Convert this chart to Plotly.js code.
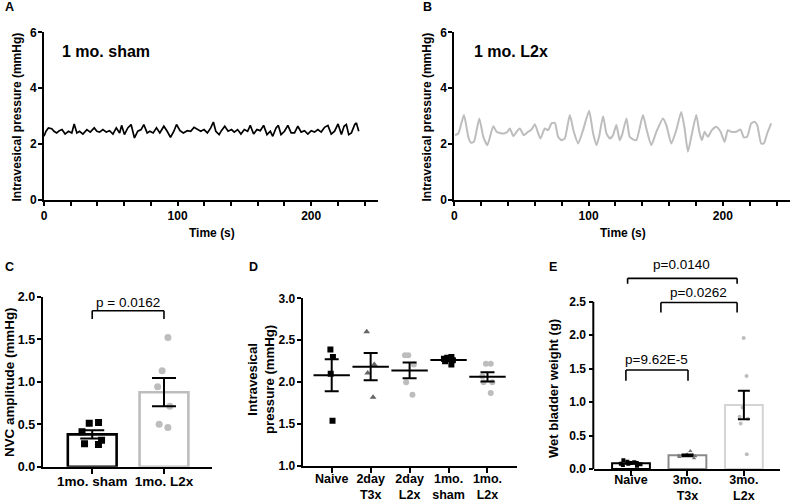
<!DOCTYPE html>
<html><head><meta charset="utf-8">
<script src="https://cdn.plot.ly/plotly-3.0.1.min.js"></script>
<style>html,body{margin:0;padding:0;background:#fff;}#chart{width:792px;height:504px;}</style>
</head><body><div id="chart"></div>
<script>
// ---------- DATA ----------
// Panel A: 1 mo. sham trace (time s, pressure mmHg)
const timeA = [0,1.5,3.3,5.8,7.5,9.5,11.5,13.5,15.8,18.3,20.8,22.6,24.6,26.6,29.1,32.1,34.6,37.6,39.6,41.6,44.1,46.6,49.1,51.6,54.1,56.6,58.1,60.2,62.7,65.2,67.7,70.2,72.7,74.7,77.2,79.2,81.7,84.2,86.7,89.7,92.2,94.7,97.2,99.2,101.8,104.3,107.3,109.8,112.3,114.8,117.3,119.8,122.3,124.8,126.8,128.6,131.1,132.8,135.3,137.8,140.4,142.4,144.9,147.4,149.9,152.4,154.4,156.9,159.4,161.9,164.4,166.9,169.4,171.2,173.7,175.4,177.4,180.0,182.5,185.0,187.5,190.0,192.5,195.0,197.5,200.0,202.5,205.0,207.5,210.0,212.5,215.0,217.5,220.1,222.6,224.6,226.3,228.1,230.1,232.6,233.8,235.6];
const pressureA = [2.28,2.46,2.58,2.55,2.46,2.40,2.48,2.52,2.36,2.46,2.40,2.72,2.40,2.46,2.36,2.52,2.43,2.58,2.46,2.43,2.52,2.43,2.48,2.36,2.58,2.40,2.67,2.34,2.58,2.70,2.22,2.46,2.52,2.70,2.40,2.46,2.40,2.58,2.40,2.64,2.46,2.24,2.46,2.70,2.48,2.40,2.48,2.46,2.60,2.52,2.46,2.52,2.40,2.58,2.79,2.46,2.34,2.48,2.64,2.46,2.52,2.43,2.52,2.36,2.52,2.46,2.67,2.36,2.52,2.48,2.67,2.34,2.46,2.28,2.58,2.67,2.34,2.46,2.67,2.40,2.40,2.64,2.43,2.48,2.36,2.48,2.43,2.52,2.43,2.60,2.67,2.36,2.46,2.72,2.34,2.64,2.70,2.34,2.40,2.70,2.76,2.46];
// Panel B: 1 mo. L2x trace
const timeB = [0.5,3.0,7.2,10.4,12.2,14.6,18.6,21.6,24.6,29.0,31.5,34.0,37.0,39.4,41.4,43.9,46.4,48.8,51.8,55.0,57.5,60.0,62.5,64.2,67.4,69.9,72.4,74.9,77.3,79.8,82.3,86.0,89.0,92.2,95.9,100.4,103.4,105.9,107.8,110.8,113.3,115.8,118.2,120.7,123.2,124.9,128.2,130.6,133.1,135.6,140.5,143.0,146.7,150.5,155.4,157.9,161.6,165.3,169.0,171.5,174.0,176.5,180.2,182.7,184.4,186.4,188.9,191.8,195.1,198.3,201.3,203.7,206.2,209.9,213.2,215.6,218.1,221.1,223.6,225.6,228.5,230.5,233.0,236.0];
const pressureB = [2.32,2.38,3.04,2.26,2.05,2.08,2.92,2.26,1.96,2.64,2.44,2.40,2.38,2.43,2.56,2.29,2.44,2.56,2.32,2.44,2.52,2.71,2.38,2.20,2.56,2.50,2.74,2.76,2.26,2.14,2.20,3.04,2.44,2.02,2.50,3.19,2.38,1.96,2.26,3.00,2.38,2.20,2.32,2.68,2.14,2.32,2.92,2.26,2.17,2.14,3.04,2.56,1.96,2.44,2.92,2.68,2.02,2.50,3.15,2.56,1.73,2.26,3.04,2.38,2.14,2.44,2.26,2.50,2.62,2.44,2.08,2.50,2.44,2.44,2.52,2.24,2.26,2.74,2.80,2.68,2.02,2.02,2.38,2.74];
const timeTicks = [0,20,40,60,80,100,120,140,160,180,200,220,240];
const timeTickText = ['0','','','','','100','','','','','200','',''];

// Panel C: NVC amplitude (mmHg)
const catsC = ['1mo. sham', '1mo. L2x'];
const nvcSham = [0.51, 0.52, 0.41, 0.31, 0.26, 0.27];
const nvcL2x = [1.52, 1.13, 0.94, 0.71, 0.50, 0.46];
const pC = 'p = 0.0162';

// Panel D: intravesical pressure (mmHg)
const catsD = ['Naive', '2day<br>T3x', '2day<br>L2x', '1mo.<br>sham', '1mo.<br>L2x'];
const ivpNaive = [2.39, 2.30, 2.10, 1.54];
const ivpT3x2d = [2.60, 2.21, 2.11, 1.82];
const ivpL2x2d = [2.32, 2.32, 2.21, 2.00, 1.85];
const ivpSham1m = [2.30, 2.29, 2.28, 2.26, 2.25, 2.21];
const ivpL2x1m = [2.22, 2.22, 2.07, 2.00, 2.00, 1.87];

// Panel E: wet bladder weight (g)
const catsE = ['Naive', '3mo.<br>T3x', '3mo.<br>L2x'];
const wbwNaive = [0.05, 0.06, 0.07, 0.08, 0.08, 0.09, 0.09, 0.10, 0.11, 0.13];
const wbwT3x = [0.16, 0.18, 0.19, 0.20, 0.20, 0.21, 0.22, 0.27];
const wbwL2x = [1.96, 1.39, 0.92, 0.78, 0.75, 0.68, 0.22];
const pE = ['p=9.62E-5', 'p=0.0262', 'p=0.0140'];

// ---------- HELPERS ----------
const mean = a => a.reduce((s, v) => s + v, 0) / a.length;
const sem = a => { const m = mean(a); return Math.sqrt(a.reduce((s, v) => s + (v - m) * (v - m), 0) / (a.length - 1)) / Math.sqrt(a.length); };
const F = 'Liberation Sans, Arial, sans-serif';
const BLACK = '#000000', LGRAY = '#bdbdbd', DGRAY = '#666666';
const bold = (size) => ({ family: F, size: size, color: BLACK, weight: 700 });

function strip(xa, ya, cat, vals, symbol, color, size, boxw, jit) {
  return { type: 'box', x: vals.map(() => cat), y: vals, xaxis: xa, yaxis: ya,
    boxpoints: 'all', jitter: jit, pointpos: 0, width: boxw,
    fillcolor: 'rgba(0,0,0,0)', line: { width: 0, color: 'rgba(0,0,0,0)' },
    whiskerwidth: 0, marker: { symbol: symbol, color: color, size: size },
    hoverinfo: 'y', showlegend: false };
}
function errTrace(xa, ya, cats, groups, capw) {
  return { type: 'scatter', mode: 'markers', x: cats, y: groups.map(mean), xaxis: xa, yaxis: ya,
    marker: { size: 1, color: 'rgba(0,0,0,0)' },
    error_y: { type: 'data', array: groups.map(sem), visible: true, color: BLACK, thickness: 2, width: capw },
    showlegend: false, hoverinfo: 'skip' };
}
function bracket(xa, ya, x0, x1, yTop, yLeg) {
  const ln = { color: BLACK, width: 1.6 };
  return [
    { type: 'line', xref: xa, yref: ya, x0: x0, x1: x0, y0: yLeg, y1: yTop, line: ln },
    { type: 'line', xref: xa, yref: ya, x0: x0, x1: x1, y0: yTop, y1: yTop, line: ln },
    { type: 'line', xref: xa, yref: ya, x0: x1, x1: x1, y0: yTop, y1: yLeg, line: ln }
  ];
}

// ---------- TRACES ----------
const groupsC = [nvcSham, nvcL2x];
const groupsD = [ivpNaive, ivpT3x2d, ivpL2x2d, ivpSham1m, ivpL2x1m];
const groupsE = [wbwNaive, wbwT3x, wbwL2x];

const traces = [
  { type: 'scatter', mode: 'lines', x: timeA, y: pressureA, xaxis: 'x', yaxis: 'y',
    line: { color: BLACK, width: 1.7 }, showlegend: false },
  { type: 'scatter', mode: 'lines', x: timeB, y: pressureB, xaxis: 'x2', yaxis: 'y2',
    line: { color: LGRAY, width: 2, shape: 'spline', smoothing: 0.5 }, showlegend: false },
  // C
  { type: 'bar', x: catsC, y: groupsC.map(mean), xaxis: 'x3', yaxis: 'y3', width: 0.68,
    marker: { color: '#ffffff', line: { color: [BLACK, LGRAY], width: 2.6 } }, showlegend: false },
  strip('x3', 'y3', catsC[0], nvcSham, 'square', BLACK, 7, 0.42, 0.8),
  strip('x3', 'y3', catsC[1], nvcL2x, 'circle', LGRAY, 7, 0.42, 0.5),
  errTrace('x3', 'y3', catsC, groupsC, 12),
  // D
  strip('x4', 'y4', catsD[0], ivpNaive, 'square', BLACK, 6, 0.4, 0.2),
  strip('x4', 'y4', catsD[1], ivpT3x2d, 'triangle-up', DGRAY, 6, 0.4, 0.6),
  strip('x4', 'y4', catsD[2], ivpL2x2d, 'circle', LGRAY, 6, 0.4, 0.7),
  strip('x4', 'y4', catsD[3], ivpSham1m, 'square', BLACK, 6, 0.4, 0.7),
  strip('x4', 'y4', catsD[4], ivpL2x1m, 'circle', LGRAY, 6, 0.4, 0.8),
  { type: 'scatter', mode: 'markers', x: catsD, y: groupsD.map(mean), xaxis: 'x4', yaxis: 'y4',
    marker: { symbol: 'line-ew', size: 26, color: BLACK, line: { color: BLACK, width: 2 } },
    error_y: { type: 'data', array: groupsD.map(sem), visible: true, color: BLACK, thickness: 2, width: 7 },
    showlegend: false },
  // E
  { type: 'bar', x: catsE, y: groupsE.map(mean), xaxis: 'x5', yaxis: 'y5', width: 0.67,
    marker: { color: '#ffffff', line: { color: [BLACK, '#8a8a8a', '#d4d4d4'], width: 2 } }, showlegend: false },
  strip('x5', 'y5', catsE[0], wbwNaive, 'square', BLACK, 4, 0.5, 0.9),
  strip('x5', 'y5', catsE[1], wbwT3x, 'triangle-up', '#777777', 4, 0.5, 0.9),
  strip('x5', 'y5', catsE[2], wbwL2x, 'circle', LGRAY, 4, 0.4, 0.5),
  errTrace('x5', 'y5', catsE, groupsE, 6)
];

// ---------- LAYOUT ----------
const W = 792, H = 504;
const px = v => v / W, py = v => (H - v) / H;
const axBase = { showline: true, linewidth: 2, linecolor: BLACK, ticks: 'outside', ticklen: 4,
  tickwidth: 2, tickcolor: BLACK, showgrid: false, zeroline: false, tickfont: bold(12), fixedrange: true };

const dA = [px(44), px(378)], dB = [px(454.3), px(790)];
const dTop = [py(200), py(32.3)];
const dC = [px(42.7), px(211.7)], dCy = [py(466.7), py(296.7)];
const dD = [px(302.7), px(516.7)], dDy = [py(466), py(298.3)];
const dE = [px(594.3), px(780)], dEy = [py(469), py(258.3)];

const layout = {
  width: W, height: H, margin: { l: 0, r: 0, t: 0, b: 0 },
  paper_bgcolor: '#ffffff', plot_bgcolor: 'rgba(0,0,0,0)',
  font: { family: F, color: BLACK }, showlegend: false, boxmode: 'overlay',
  xaxis: Object.assign({}, axBase, { domain: dA, anchor: 'y', range: [0, 250], tickmode: 'array', tickvals: timeTicks, ticktext: timeTickText }),
  yaxis: Object.assign({}, axBase, { domain: dTop, anchor: 'x', range: [0, 6], tickmode: 'array', tickvals: [0, 2, 4, 6], ticklabelstandoff: -1 }),
  xaxis2: Object.assign({}, axBase, { domain: dB, anchor: 'y2', range: [0, 250], tickmode: 'array', tickvals: timeTicks, ticktext: timeTickText }),
  yaxis2: Object.assign({}, axBase, { domain: dTop, anchor: 'x2', range: [0, 6], tickmode: 'array', tickvals: [0, 2, 4, 6], ticklabelstandoff: -1 }),
  xaxis3: Object.assign({}, axBase, { domain: dC, anchor: 'y3', type: 'category', range: [-0.69, 1.665], ticklen: 5,
    tickfont: bold(13.5), ticklabelstandoff: -4 }),
  yaxis3: Object.assign({}, axBase, { domain: dCy, anchor: 'x3', range: [0, 2.0], tickmode: 'array', tickvals: [0, 0.5, 1, 1.5, 2], tickformat: '.1f',
    tickfont: bold(12.5), ticklabelstandoff: -1 }),
  xaxis4: Object.assign({}, axBase, { domain: dD, anchor: 'y4', type: 'category', range: [-0.745, 4.75], ticklen: 5,
    tickfont: bold(12.5), ticklabelstandoff: -5 }),
  yaxis4: Object.assign({}, axBase, { domain: dDy, anchor: 'x4', range: [1, 3], tickmode: 'array', tickvals: [1, 1.5, 2, 2.5, 3], tickformat: '.1f', ticklabelstandoff: -1 }),
  xaxis5: Object.assign({}, axBase, { domain: dE, anchor: 'y5', type: 'category', range: [-0.65, 2.64], ticklen: 5,
    tickfont: bold(12.5), ticklabelstandoff: -7 }),
  yaxis5: Object.assign({}, axBase, { domain: dEy, anchor: 'x5', range: [0, 3.15], showline: false, tickmode: 'array', tickvals: [0, 0.5, 1, 1.5, 2, 2.5], tickformat: '.1f', ticklabelstandoff: 1 }),
  shapes: [].concat(
    bracket('x3', 'y3', 0, 1, 1.835, 1.737),
    bracket('x5', 'y5', -0.09, 1.01, 1.48, 1.32),
    bracket('x5', 'y5', 0.53, 1.88, 2.49, 2.34),
    bracket('x5', 'y5', -0.06, 1.88, 2.85, 2.77),
    [{ type: 'line', xref: 'paper', yref: 'y5', x0: dE[0] - 1 / W, x1: dE[0] - 1 / W, y0: 0, y1: 2.5, line: { color: BLACK, width: 2 } }]
  ),
  annotations: []
};

function ann(text, x, y, opts) {
  return Object.assign({ text: text, x: x, y: y, xref: 'paper', yref: 'paper', showarrow: false,
    xanchor: 'center', yanchor: 'middle', font: bold(12) }, opts || {});
}
const A = layout.annotations;
// panel letters
[['A', 3, 7.5], ['B', 421, 7.5], ['C', 3, 267], ['D', 247, 267], ['E', 547, 267]].forEach(l =>
  A.push(ann(l[0], px(l[1]), py(l[2]), { xanchor: 'left', font: bold(12.5) })));
// trace labels
A.push(ann('1 mo. sham', 12, 5.3, { xref: 'x', yref: 'y', xanchor: 'left', font: bold(16) }));
A.push(ann('1 mo. L2x', 13, 5.3, { xref: 'x2', yref: 'y2', xanchor: 'left', font: bold(16) }));
// axis titles
A.push(ann('Intravesical pressure (mmHg)', px(17), py(117.5), { textangle: -90, font: bold(12) }));
A.push(ann('Intravesical pressure (mmHg)', px(427), py(117.5), { textangle: -90, font: bold(12) }));
A.push(ann('Time (s)', px(212), py(233), { font: bold(12) }));
A.push(ann('Time (s)', px(623), py(233), { font: bold(12) }));
A.push(ann('NVC amplitude (mmHg)', px(9), py(382), { textangle: -90, font: bold(13.4) }));
A.push(ann('Intravesical<br>pressure (mmHg)', px(261), py(380), { textangle: -90, font: bold(13.2) }));
A.push(ann('Wet bladder weight (g)', px(553), py(389), { textangle: -90, font: bold(13) }));
// p-values
const pFont = { family: F, size: 13.5, color: BLACK, weight: 400 };
A.push(ann(pC, 0.5, 1.926, { xref: 'x3', yref: 'y3', font: pFont }));
A.push(ann(pE[0], 0.455, 1.63, { xref: 'x5', yref: 'y5', font: pFont }));
A.push(ann(pE[1], 1.19, 2.635, { xref: 'x5', yref: 'y5', font: pFont }));
A.push(ann(pE[2], 0.9, 3.05, { xref: 'x5', yref: 'y5', font: pFont }));

Plotly.newPlot('chart', traces, layout, { staticPlot: true, displayModeBar: false });
</script>
</body></html>
